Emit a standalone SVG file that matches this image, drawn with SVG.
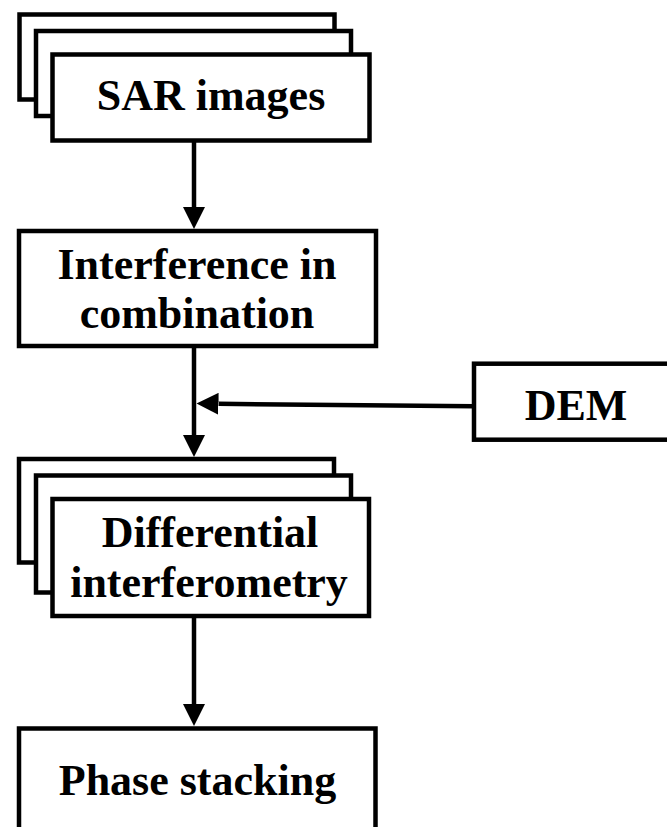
<svg xmlns="http://www.w3.org/2000/svg" width="667" height="827" viewBox="0 0 667 827">
  <style>
    .box { fill: #fff; stroke: #000; stroke-width: 4.5; }
    .lbl { font-family: "Liberation Serif", "Times New Roman", serif; font-weight: bold; font-size: 44px; fill: #000; text-anchor: middle; }
    .link { fill: none; stroke: #000; stroke-width: 4.5; }
  </style>
  <defs>
    <marker id="arrow" viewBox="0 0 22 22" markerWidth="22" markerHeight="22" refX="0" refY="11" orient="auto" markerUnits="userSpaceOnUse">
      <path d="M0,0 L22,11 L0,22 Z" fill="#000"/>
    </marker>
  </defs>

  <rect width="667" height="827" fill="#fff"/>

  <!-- connectors -->
  <g id="connectors">
    <line class="link" x1="194" y1="141" x2="194" y2="207" marker-end="url(#arrow)"/>
    <line class="link" x1="194" y1="346" x2="194" y2="435" marker-end="url(#arrow)"/>
    <line class="link" x1="474" y1="406.2" x2="218.5" y2="403.8" marker-end="url(#arrow)"/>
    <line class="link" x1="194" y1="616" x2="194" y2="704" marker-end="url(#arrow)"/>
  </g>

  <!-- stacked SAR image frames -->
  <g id="sar-images">
    <rect class="box" x="19.5" y="14.5" width="315" height="85"/>
    <rect class="box" x="36" y="31" width="315" height="85"/>
    <rect class="box" x="52.5" y="54.5" width="317" height="86"/>
    <text class="lbl" x="211" y="110">SAR images</text>
  </g>

  <g id="interference">
    <rect class="box" x="19" y="231" width="357" height="115"/>
    <text class="lbl" x="197" y="279">Interference in</text>
    <text class="lbl" x="197" y="328">combination</text>
  </g>

  <g id="dem">
    <rect class="box" x="474" y="363.7" width="230" height="76"/>
    <text class="lbl" x="576" y="420">DEM</text>
  </g>

  <!-- stacked differential interferograms -->
  <g id="differential">
    <rect class="box" x="19" y="459" width="315" height="103.5"/>
    <rect class="box" x="36" y="475.5" width="315" height="117"/>
    <rect class="box" x="52.5" y="499" width="316.5" height="117"/>
    <text class="lbl" x="210" y="546.7">Differential</text>
    <text class="lbl" x="209" y="596.7">interferometry</text>
  </g>

  <g id="phase-stacking">
    <rect class="box" x="19" y="728.5" width="356.5" height="130"/>
    <text class="lbl" x="197.5" y="795">Phase stacking</text>
  </g>
</svg>
